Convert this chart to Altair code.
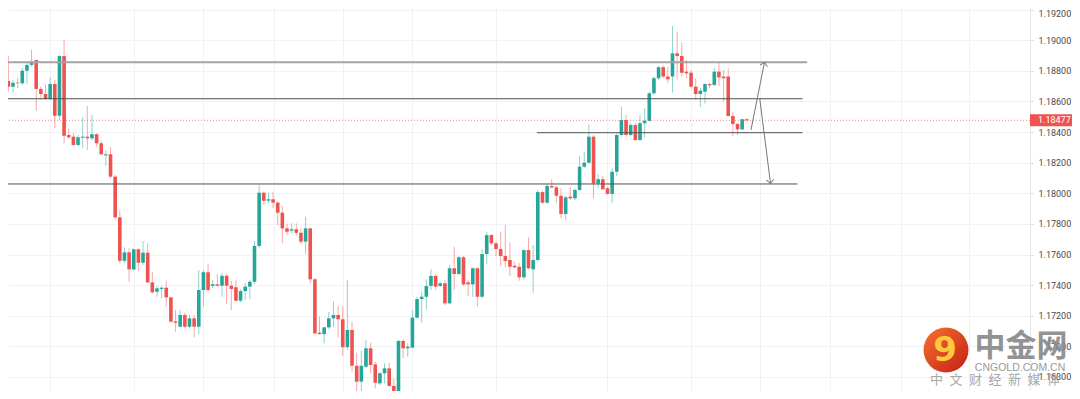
import altair as alt
import pandas as pd

# ---- candle data (EUR/USD style quotes) ----
opens = [1.18734, 1.18697, 1.18723, 1.18719, 1.18801, 1.18839, 1.18871, 1.18682, 1.18649, 1.18616,
         1.18714, 1.18507, 1.18897, 1.18381, 1.18370, 1.18316, 1.18363, 1.18370, 1.18359, 1.18386,
         1.18327, 1.18248, 1.18255, 1.18109, 1.17843, 1.17559, 1.17614, 1.17503, 1.17634, 1.17546,
         1.17612, 1.17418, 1.17357, 1.17375, 1.17383, 1.17320, 1.17163, 1.17128, 1.17205, 1.17128,
         1.17183, 1.17128, 1.17368, 1.17484, 1.17394, 1.17405, 1.17396, 1.17461, 1.17396, 1.17386,
         1.17298, 1.17361, 1.17390, 1.17422, 1.17656, 1.18004, 1.17952, 1.17961, 1.17939, 1.17873,
         1.17771, 1.17756, 1.17765, 1.17742, 1.17684, 1.17771, 1.17438, 1.17089, 1.17080, 1.17124,
         1.17183, 1.17205, 1.17177, 1.16994, 1.17107, 1.16873, 1.16769, 1.16867, 1.16987, 1.16882,
         1.16758, 1.16824, 1.16856, 1.16741, 1.16682, 1.17035, 1.16987, 1.16991, 1.17187, 1.17309,
         1.17324, 1.17394, 1.17460, 1.17394, 1.17412, 1.17281, 1.17510, 1.17473, 1.17582, 1.17418,
         1.17405, 1.17510, 1.17324, 1.17603, 1.17727, 1.17673, 1.17636, 1.17590, 1.17564, 1.17527,
         1.17520, 1.17451, 1.17629, 1.17503, 1.17564, 1.18008, 1.17939, 1.18048, 1.18039, 1.17984,
         1.17865, 1.17978, 1.17967, 1.18022, 1.18174, 1.18200, 1.18370, 1.18065, 1.18092, 1.18033,
         1.17996, 1.18141, 1.18381, 1.18479, 1.18381, 1.18446, 1.18348, 1.18458, 1.18474, 1.18654,
         1.18752, 1.18824, 1.18763, 1.18763, 1.18915, 1.18897, 1.18795, 1.18788, 1.18697, 1.18649,
         1.18664, 1.18714, 1.18708, 1.18795, 1.18763, 1.18763, 1.18505, 1.18453, 1.18418, 1.18484]
highs = [1.18897, 1.18741, 1.18754, 1.18819, 1.18854, 1.18937, 1.18876, 1.18697, 1.18708, 1.18758,
         1.18741, 1.18904, 1.19002, 1.18425, 1.18392, 1.18381, 1.18499, 1.18571, 1.18512, 1.18392,
         1.18344, 1.18278, 1.18303, 1.18120, 1.17884, 1.17647, 1.17641, 1.17641, 1.17641, 1.17688,
         1.17673, 1.17488, 1.17394, 1.17394, 1.17429, 1.17324, 1.17237, 1.17237, 1.17220, 1.17205,
         1.17205, 1.17499, 1.17499, 1.17538, 1.17433, 1.17471, 1.17481, 1.17473, 1.17427, 1.17433,
         1.17373, 1.17412, 1.17433, 1.17690, 1.18054, 1.18011, 1.18004, 1.18011, 1.17945, 1.17917,
         1.17799, 1.17804, 1.17804, 1.17771, 1.17847, 1.17775, 1.17444, 1.17194, 1.17128, 1.17226,
         1.17292, 1.17263, 1.17259, 1.17433, 1.17161, 1.16958, 1.16971, 1.17041, 1.17024, 1.16899,
         1.16834, 1.16889, 1.16893, 1.16791, 1.17041, 1.17046, 1.17020, 1.17237, 1.17324, 1.17357,
         1.17438, 1.17503, 1.17473, 1.17422, 1.17433, 1.17531, 1.17651, 1.17590, 1.17590, 1.17433,
         1.17516, 1.17516, 1.17634, 1.17749, 1.17734, 1.17684, 1.17749, 1.17793, 1.17677, 1.17553,
         1.17546, 1.17634, 1.17712, 1.17662, 1.18022, 1.18017, 1.18061, 1.18092, 1.18048, 1.18033,
         1.17982, 1.18043, 1.18033, 1.18244, 1.18272, 1.18451, 1.18381, 1.18126, 1.18113, 1.18043,
         1.18163, 1.18392, 1.18566, 1.18512, 1.18461, 1.18461, 1.18512, 1.18556, 1.18664, 1.18763,
         1.18832, 1.18839, 1.18827, 1.19093, 1.19056, 1.18984, 1.18871, 1.18806, 1.18752, 1.18686,
         1.18719, 1.18723, 1.18817, 1.18860, 1.18806, 1.18817, 1.18533, 1.18461, 1.18488, 1.18490]
lows = [1.18664, 1.18656, 1.18688, 1.18708, 1.18714, 1.18827, 1.18540, 1.18610, 1.18610, 1.18610,
        1.18425, 1.18479, 1.18327, 1.18355, 1.18309, 1.18309, 1.18294, 1.18283, 1.18348, 1.18305,
        1.18250, 1.18180, 1.18098, 1.17830, 1.17542, 1.17542, 1.17422, 1.17494, 1.17494, 1.17531,
        1.17412, 1.17346, 1.17324, 1.17314, 1.17259, 1.17154, 1.17095, 1.17124, 1.17118, 1.17118,
        1.17059, 1.17080, 1.17259, 1.17357, 1.17379, 1.17390, 1.17324, 1.17277, 1.17237, 1.17292,
        1.17288, 1.17303, 1.17307, 1.17407, 1.17641, 1.17924, 1.17935, 1.17902, 1.17793, 1.17673,
        1.17727, 1.17739, 1.17727, 1.17669, 1.17603, 1.17412, 1.17080, 1.17077, 1.17020, 1.17113,
        1.17128, 1.17059, 1.16937, 1.16976, 1.16834, 1.16693, 1.16682, 1.16856, 1.16824, 1.16725,
        1.16747, 1.16758, 1.16736, 1.16671, 1.16660, 1.16922, 1.16932, 1.16987, 1.17183, 1.17154,
        1.17242, 1.17368, 1.17368, 1.17390, 1.17270, 1.17277, 1.17368, 1.17466, 1.17394, 1.17329,
        1.17324, 1.17259, 1.17314, 1.17538, 1.17662, 1.17590, 1.17525, 1.17516, 1.17460, 1.17510,
        1.17429, 1.17438, 1.17503, 1.17350, 1.17553, 1.17930, 1.17930, 1.18033, 1.17935, 1.17837,
        1.17826, 1.17956, 1.17956, 1.18017, 1.18163, 1.18196, 1.17967, 1.18033, 1.18022, 1.17989,
        1.17935, 1.18113, 1.18370, 1.18370, 1.18370, 1.18344, 1.18344, 1.18366, 1.18468, 1.18643,
        1.18741, 1.18752, 1.18719, 1.18658, 1.18745, 1.18763, 1.18752, 1.18686, 1.18610, 1.18562,
        1.18588, 1.18686, 1.18701, 1.18701, 1.18599, 1.18501, 1.18375, 1.18381, 1.18414, 1.18470]
closes = [1.18697, 1.18723, 1.18719, 1.18801, 1.18839, 1.18860, 1.18682, 1.18649, 1.18616, 1.18714,
          1.18507, 1.18897, 1.18376, 1.18366, 1.18316, 1.18366, 1.18370, 1.18359, 1.18386, 1.18327,
          1.18255, 1.18255, 1.18109, 1.17843, 1.17559, 1.17614, 1.17503, 1.17634, 1.17546, 1.17612,
          1.17418, 1.17353, 1.17379, 1.17383, 1.17320, 1.17161, 1.17154, 1.17205, 1.17128, 1.17183,
          1.17128, 1.17368, 1.17484, 1.17368, 1.17405, 1.17396, 1.17461, 1.17396, 1.17375, 1.17298,
          1.17361, 1.17390, 1.17422, 1.17656, 1.18004, 1.17952, 1.17961, 1.17939, 1.17873, 1.17771,
          1.17749, 1.17765, 1.17742, 1.17684, 1.17771, 1.17438, 1.17085, 1.17080, 1.17124, 1.17183,
          1.17205, 1.17177, 1.16994, 1.17107, 1.16873, 1.16769, 1.16873, 1.16987, 1.16878, 1.16762,
          1.16824, 1.16856, 1.16741, 1.16682, 1.17035, 1.16987, 1.16997, 1.17187, 1.17309, 1.17324,
          1.17394, 1.17460, 1.17390, 1.17412, 1.17281, 1.17510, 1.17473, 1.17582, 1.17405, 1.17405,
          1.17510, 1.17324, 1.17603, 1.17727, 1.17673, 1.17636, 1.17590, 1.17558, 1.17520, 1.17516,
          1.17451, 1.17629, 1.17510, 1.17564, 1.18008, 1.17939, 1.18048, 1.18039, 1.17984, 1.17865,
          1.17974, 1.17967, 1.18022, 1.18174, 1.18200, 1.18370, 1.18065, 1.18092, 1.18026, 1.17996,
          1.18141, 1.18381, 1.18479, 1.18381, 1.18446, 1.18348, 1.18458, 1.18474, 1.18654, 1.18752,
          1.18824, 1.18763, 1.18745, 1.18915, 1.18897, 1.18788, 1.18784, 1.18697, 1.18649, 1.18671,
          1.18714, 1.18706, 1.18795, 1.18758, 1.18752, 1.18505, 1.18453, 1.18418, 1.18484, 1.18477]

# ---- drawing-tool annotations ----
major_price = [1.18856]
major_from = [-3.0]
major_to = [172.0]
minor_prices = [1.18618, 1.18396, 1.18061]
minor_from = [-3.0, 113.8, -3.0]
minor_to = [171.0, 171.0, 169.9]

arrow_x0 = [159.9, 161.8]
arrow_y0 = [1.18414, 1.18616]
arrow_x1 = [162.8, 164.1]
arrow_y1 = [1.18856, 1.18065]
arrow_angle = [11.6, 172.5]

last_price = 1.18477
last_label = "1.18477"

grid_x = [8.9, 27.0, 41.9, 57.1, 72.0, 86.9, 105.0, 128.9, 147.0, 161.9, 176.9, 192.1, 206.8]
y_ticks = [1.168, 1.170, 1.172, 1.174, 1.176, 1.178, 1.180, 1.182, 1.184, 1.186, 1.188, 1.190, 1.192]

GREEN = "#26a69a"
RED = "#ef5350"
W, H = 1022, 383

candles = pd.DataFrame({
    "i": list(range(len(opens))),
    "o": opens, "h": highs, "l": lows, "c": closes,
})
candles["dir"] = ["up" if c >= o else "down" for o, c in zip(opens, closes)]

major = pd.DataFrame({"p": major_price, "x0": major_from, "x1": major_to})
minor = pd.DataFrame({"p": minor_prices, "x0": minor_from, "x1": minor_to})
arrows = pd.DataFrame({"x0": arrow_x0, "y0": arrow_y0, "x1": arrow_x1, "y1": arrow_y1, "a": arrow_angle})
last = pd.DataFrame({"p": [last_price], "t": [last_label]})

xs = alt.Scale(domain=[1.0, 218.9], nice=False, zero=False)
ys = alt.Scale(domain=[1.16708, 1.19211], nice=False, zero=False)
xax = alt.Axis(values=grid_x, labels=False, ticks=False, domain=False, grid=True,
               gridColor="#f0f2f5", gridWidth=1, title=None)
yax = alt.Axis(orient="right", values=y_ticks, format=".5f", grid=True, gridColor="#f0f2f5",
               domain=True, domainColor="#e3e5ea", ticks=True, tickSize=3, tickColor="#d6d8dd",
               labelFontSize=9, labelColor="#4a4a4a", labelPadding=5, labelFont="Roboto",
               labelBaseline=alt.condition("datum.value > 1.1919", alt.value("top"), alt.value("middle")),
               title=None)
dir_color = alt.Color("dir:N", scale=alt.Scale(domain=["up", "down"], range=[GREEN, RED]), legend=None)

base = alt.Chart(candles)
wicks = base.mark_rule(strokeWidth=1, opacity=0.5, clip=True).encode(
    x=alt.X("i:Q", scale=xs, axis=xax),
    y=alt.Y("l:Q", scale=ys, axis=yax),
    y2="h:Q",
    color=dir_color,
)
bodies = base.mark_bar(size=3.6, clip=True).encode(
    x=alt.X("i:Q", scale=xs, axis=xax),
    y=alt.Y("o:Q", scale=ys, axis=yax),
    y2="c:Q",
    color=dir_color,
)

major_rule = alt.Chart(major).mark_rule(clip=True, color="#a3a3a3", strokeWidth=2).encode(
    x=alt.X("x0:Q", scale=xs, axis=xax), x2="x1:Q",
    y=alt.Y("p:Q", scale=ys, axis=yax),
)
minor_rules = alt.Chart(minor).mark_rule(clip=True, color="#4f4f4f", strokeWidth=1).encode(
    x=alt.X("x0:Q", scale=xs, axis=xax), x2="x1:Q",
    y=alt.Y("p:Q", scale=ys, axis=yax),
)

price_line = alt.Chart(last).mark_rule(strokeDash=[1, 2], color=RED, strokeWidth=1, opacity=0.7).encode(
    y=alt.Y("p:Q", scale=ys, axis=yax),
)

arrow_lines = alt.Chart(arrows).mark_rule(color="#767676", strokeWidth=1, clip=True).encode(
    x=alt.X("x0:Q", scale=xs, axis=xax), x2="x1:Q",
    y=alt.Y("y0:Q", scale=ys, axis=yax), y2="y1:Q",
)
arrow_heads = alt.Chart(arrows).mark_point(
    shape="M-1,1L0,0L1,1", filled=False, size=55, strokeWidth=1, color="#767676", opacity=1
).encode(
    x=alt.X("x1:Q", scale=xs, axis=xax),
    y=alt.Y("y1:Q", scale=ys, axis=yax),
    angle=alt.Angle("a:Q", scale=None),
)

price_box = alt.Chart(last).mark_point(
    shape="M-1.75,-0.5H1.75V0.5H-1.75Z", filled=True, fill=RED, size=576, strokeWidth=0, opacity=1
).encode(
    x=alt.value(W + 21),
    y=alt.Y("p:Q", scale=ys, axis=yax),
)
price_text = alt.Chart(last).mark_text(
    align="left", baseline="middle", color="white", fontSize=9, font="Roboto"
).encode(
    x=alt.value(W + 8),
    y=alt.Y("p:Q", scale=ys, axis=yax),
    text="t:N",
)

# ---- watermark ----
logo_fill = alt.LinearGradient(
    gradient="linear",
    stops=[alt.GradientStop(color="#f26a2a", offset=0), alt.GradientStop(color="#c8261a", offset=1)],
    x1=0.1, y1=0.1, x2=0.9, y2=0.9,
)
logo_circle = alt.Chart(pd.DataFrame({"t": ["logo"]})).mark_point(
    shape="circle", filled=True, size=2025, fill=logo_fill, opacity=1, strokeWidth=0
).encode(x=alt.value(938), y=alt.value(342))
logo_glyph = alt.Chart(pd.DataFrame({"t": ["9"]})).mark_text(
    font="DejaVu Sans", fontWeight="bold", fontSize=34, color="#ffc83d", align="center", baseline="middle"
).encode(x=alt.value(937), y=alt.value(343), text="t:N")
wm_big = alt.Chart(pd.DataFrame({"t": ["中金网"]})).mark_text(
    font="Noto Sans CJK SC", fontWeight="bold", fontSize=31, color="#8a8a8a", align="center",
    baseline="middle", opacity=0.92
).encode(x=alt.value(1013), y=alt.value(339), text="t:N")
wm_url = alt.Chart(pd.DataFrame({"t": ["CNGOLD.COM.CN"]})).mark_text(
    font="Liberation Sans", fontSize=10.5, color="#9a9a9a", align="center", baseline="middle"
).encode(x=alt.value(1012), y=alt.value(360), text="t:N")
wm_sub = alt.Chart(pd.DataFrame({"t": ["中\u2002文\u2002财\u2002经\u2002新\u2002媒\u2002体"]})).mark_text(
    font="Noto Sans CJK SC", fontSize=13, color="#a8a8a8", align="center", baseline="middle"
).encode(x=alt.value(987), y=alt.value(372), text="t:N")

chart = alt.layer(
    wicks, bodies, major_rule, minor_rules, price_line, arrow_lines, arrow_heads,
    price_box, price_text, logo_circle, logo_glyph, wm_big, wm_url, wm_sub,
).properties(
    width=W, height=H,
    autosize=alt.AutoSizeParams(type="none"),
    padding={"left": 0, "top": 0, "right": 42, "bottom": 0},
    background="white",
).configure_view(strokeWidth=0)

chart.save("out.html", embed_options={"renderer": "svg", "actions": False})
